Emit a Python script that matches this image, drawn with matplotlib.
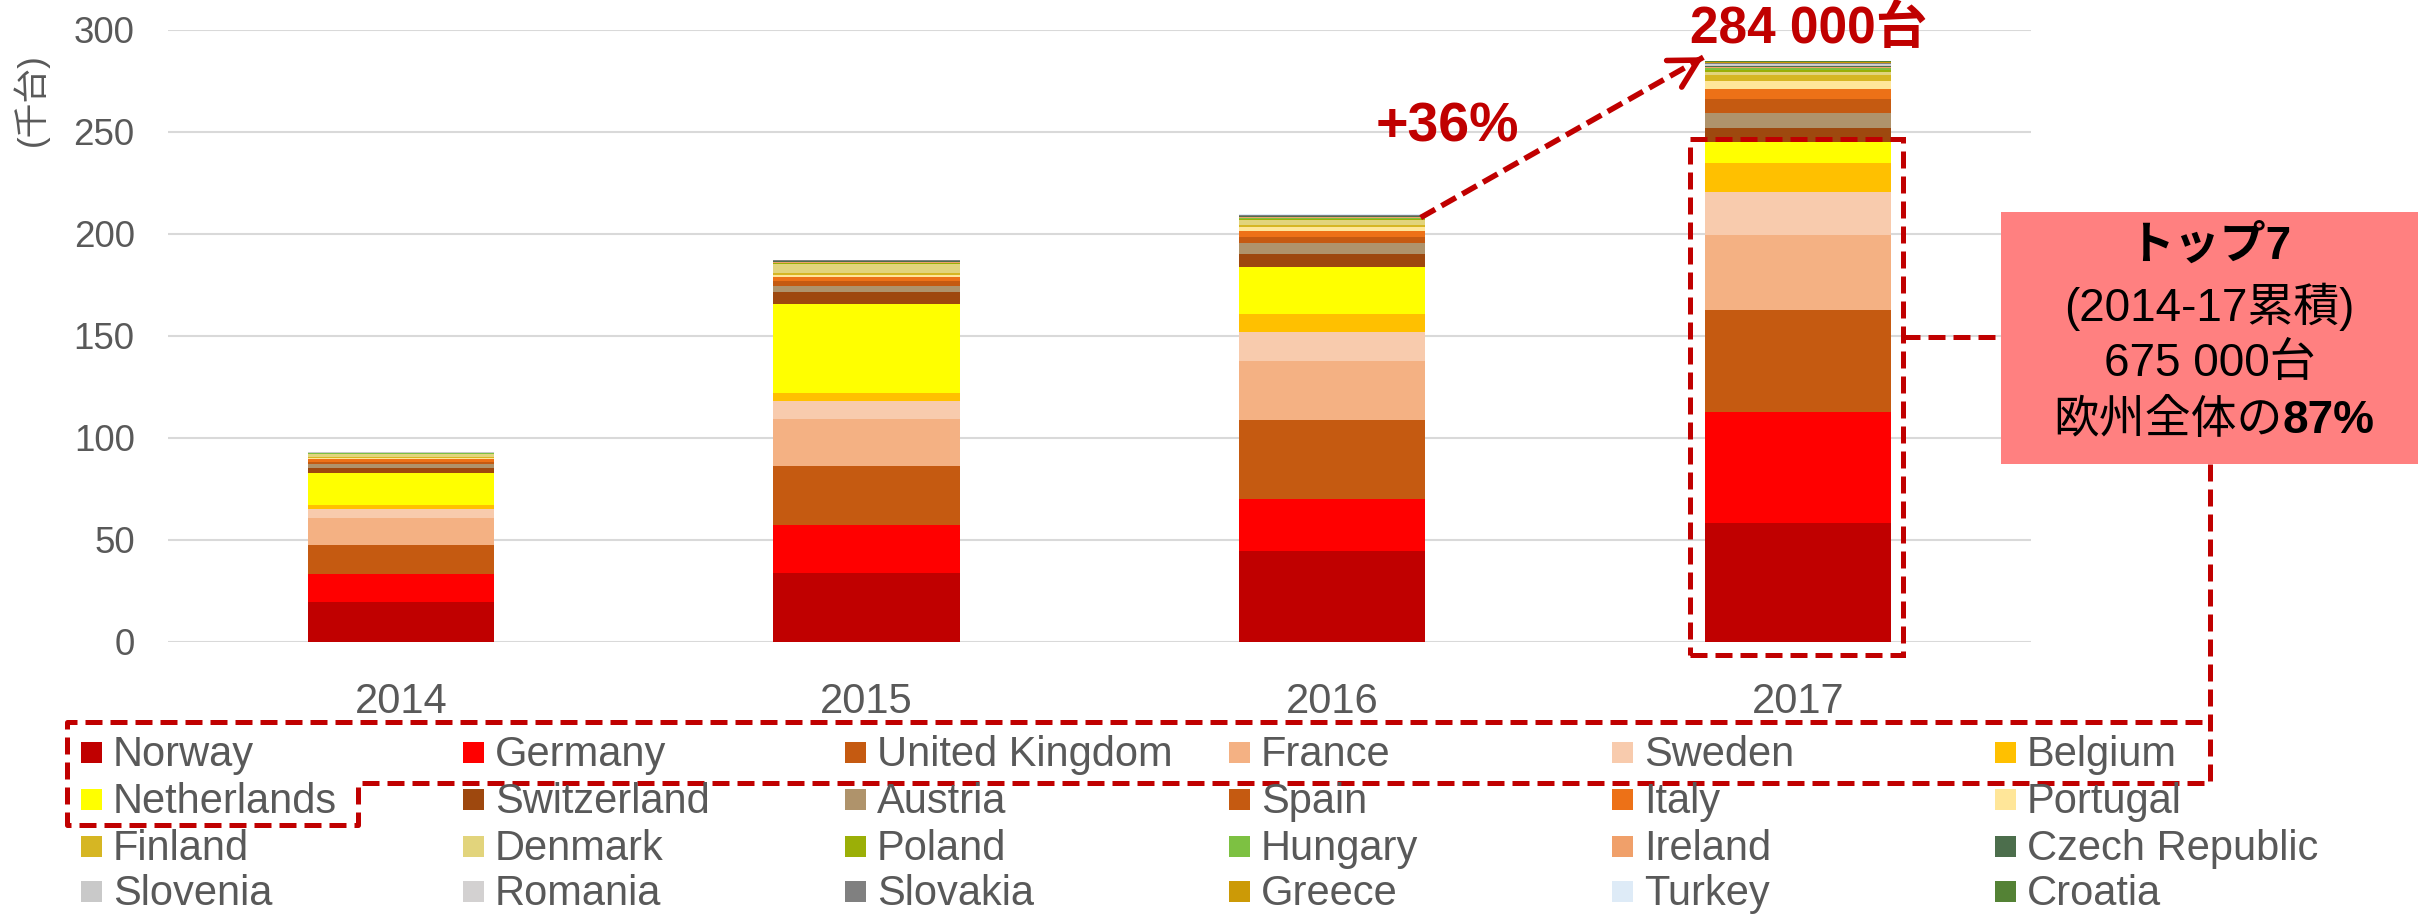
import numpy as np
import matplotlib.pyplot as plt
from matplotlib.patches import Rectangle

plt.rcParams['font.family'] = ['Liberation Sans', 'Noto Sans CJK JP', 'DejaVu Sans']

years = ['2014', '2015', '2016', '2017']
countries = ['Norway', 'Germany', 'United Kingdom', 'France', 'Sweden', 'Belgium',
             'Netherlands', 'Switzerland', 'Austria', 'Spain', 'Italy', 'Portugal',
             'Finland', 'Denmark', 'Poland', 'Hungary', 'Ireland', 'Czech Republic',
             'Slovenia', 'Romania', 'Slovakia', 'Greece', 'Turkey', 'Croatia']
colors = ['#C00000', '#FF0000', '#C55A11', '#F4B183', '#F8CBAD', '#FFC000',
          '#FFFF00', '#9E480E', '#AF936B', '#C55A11', '#ED7117', '#FFE699',
          '#D6B623', '#E2D47C', '#9BAF07', '#7DC142', '#F0A06A', '#4C6E4C',
          '#C9C9C9', '#D3D1D1', '#808080', '#CC9A06', '#DEEBF7', '#548235']

# 千台, same order as countries
v2014 = [19.4, 13.5, 14.6, 12.8, 4.5, 1.9, 16.1, 2.4, 2.0, 1.0, 1.1, 0.7,
         0.6, 1.4, 0.1, 0.1, 0.3, 0.1, 0.1, 0.05, 0.1, 0.1, 0.05, 0.05]
v2015 = [33.7, 23.5, 28.7, 23.1, 8.8, 3.8, 43.7, 6.1, 3.0, 2.1, 2.3, 1.1,
         0.5, 4.7, 0.3, 0.3, 0.5, 0.2, 0.2, 0.1, 0.2, 0.1, 0.1, 0.1]
v2016 = [44.5, 25.3, 38.7, 28.9, 14.1, 8.9, 23.3, 6.2, 5.2, 3.1, 2.9, 2.0,
         1.0, 2.4, 0.6, 0.4, 0.6, 0.3, 0.2, 0.2, 0.3, 0.2, 0.1, 0.1]
v2017 = [57.9, 54.7, 50.0, 36.7, 21.0, 14.1, 10.6, 6.9, 7.0, 7.0, 4.9, 3.8,
         3.1, 1.3, 1.1, 0.8, 0.8, 0.5, 0.5, 0.4, 0.5, 0.3, 0.2, 0.3]

RED = '#C00000'
GRAY = '#595959'
W, H = 2425, 915

fig = plt.figure(figsize=(W / 100, H / 100), dpi=100)
ax = fig.add_axes([168 / W, 1 - 641.5 / H, (2030.7 - 168) / W, (641.5 - 29.5) / H])

data = np.array([v2014, v2015, v2016, v2017]).T
x = np.arange(len(years))
bw = 0.4
bottoms = np.zeros(len(years))
top7 = None
for i, (name, col, vals) in enumerate(zip(countries, colors, data)):
    ax.bar(x, vals, width=bw, bottom=bottoms, color=col, lw=0, zorder=2)
    bottoms = bottoms + vals
    if i == 6:
        top7 = bottoms.copy()
totals = bottoms

ax.set_xlim(-0.5, 3.5)
ax.set_ylim(0, 300)
ax.set_yticks(range(0, 301, 50))
ax.set_xticks(x, years)
ax.grid(axis='y', color='#D9D9D9', lw=1.5)
ax.set_axisbelow(True)
for s in ax.spines.values():
    s.set_visible(False)
ax.tick_params(axis='y', length=0, pad=24, labelsize=26.5, labelcolor=GRAY)
ax.tick_params(axis='x', length=0, pad=29, labelsize=30, labelcolor=GRAY)

# arrow 2016 -> 2017
dash = (0, (3, 1.3))
p0 = np.array([2 + bw / 2 - 0.01, totals[2] - 1.7])
p1 = np.array([3 - bw / 2 - 0.003, totals[3] + 2.0])
ax.plot([p0[0], p1[0]], [p0[1], p1[1]], ls=dash, lw=4, color=RED,
        clip_on=False, zorder=5, dash_capstyle='butt')
ax.annotate('', xy=p1, xytext=p1 - 0.03 * (p1 - p0),
            arrowprops=dict(arrowstyle='->,head_length=1.0,head_width=0.55',
                            lw=4, color=RED, shrinkA=0, shrinkB=0,
                            mutation_scale=20), zorder=5)
ax.text(2.247, 252.0, '+36%', color=RED, fontsize=40, fontweight='bold',
        ha='center', va='center')
ax.text(3.022, 300.2, '284 000台', color=RED, fontsize=37, fontweight='bold',
        ha='center', va='center', clip_on=False)

# dashed box around top 7 in 2017
box_ls = (0, (3.4, 1.6))
ax.add_patch(Rectangle((3 - 0.232, -6.6), 0.458, top7[3] + 1.3 + 6.6, fill=False,
                       ec=RED, lw=3.6, ls=box_ls, clip_on=False, zorder=6))

# overlay in pixel coordinates
ov = fig.add_axes([0, 0, 1, 1])
ov.set_xlim(0, W)
ov.set_ylim(H, 0)
ov.axis('off')
ov.patch.set_alpha(0)

ov.text(31, 100, '(千台)', rotation=90, fontsize=25, color=GRAY,
        ha='center', va='center')

# legend
col_x = [81, 463, 845, 1229, 1612, 1995]
row_y = [752, 799, 846, 891]
for i, (name, col) in enumerate(zip(countries, colors)):
    r, c = divmod(i, 6)
    ov.add_patch(Rectangle((col_x[c], row_y[r] - 10.5), 21, 21, color=col, lw=0))
    ov.text(col_x[c] + 32, row_y[r] + 14, name, fontsize=30, color=GRAY,
            ha='left', va='baseline')

# legend outline + connector to the pink box
ov.plot([2210, 2210, 358, 358, 67, 67, 2210], [464, 783, 783, 825, 825, 722, 722],
        color=RED, lw=3.6, ls=box_ls)
ov.plot([1903, 2001], [337, 337], color=RED, lw=3.6, ls=box_ls)

# pink box
ov.add_patch(Rectangle((2001, 212), 417, 252, color='#FF8080', lw=0))
cx = 2209.5
ov.text(cx, 247, 'トップ7', fontsize=33, fontweight='bold', color='black',
        ha='center', va='center')
ov.text(cx, 307, '(2014-17累積)', fontsize=33, color='black', ha='center', va='center')
ov.text(cx, 364, '675 000台', fontsize=33, color='black', ha='center', va='center')
ov.text(2283, 421, '欧州全体の', fontsize=33, color='black', ha='right', va='center')
ov.text(2283, 421, '87%', fontsize=33, fontweight='bold', color='black',
        ha='left', va='center')

fig.savefig('out.png', dpi=100)
